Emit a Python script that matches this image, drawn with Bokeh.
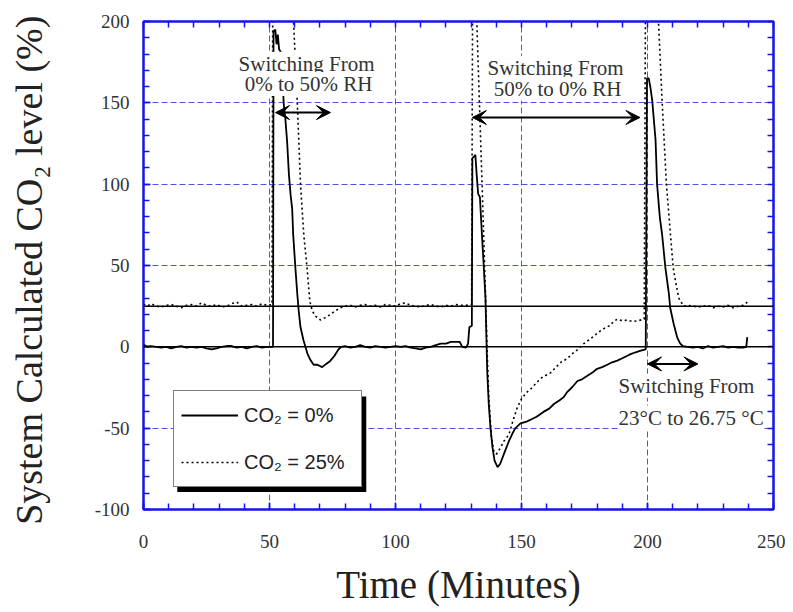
from bokeh.plotting import figure
from bokeh.models import (Range1d, LinearAxis, FixedTicker, Span, Label, Arrow,
                          VeeHead, Legend, LegendItem, BoxAnnotation)
from bokeh.embed import file_html
from bokeh.resources import INLINE

# ---------------- data ----------------
# Series 1: CO2 = 0 %  (solid)
solid_t = [0, 1.5, 3, 5, 7, 9, 11, 13, 15, 17, 19, 21, 23, 25, 27, 29, 31, 33, 35, 37, 39, 41, 43, 45, 47, 49, 51.4,
           51.6, 52.3, 52.8, 53.3, 53.8, 54.6, 55.2, 55.6, 56.3, 57.0, 57.7, 58.4, 59.0, 59.4, 60.3, 61.0, 61.6, 62.3,
           63.5, 65.0, 66.2, 67.5, 69.0, 70.9, 72.5, 74.2, 75.8, 77.4, 78.5,
           80, 82, 84, 86, 88, 90, 92, 94, 96, 98, 100, 102, 104, 106, 108, 110, 112, 114, 116, 118, 120, 122, 124,
           125.5, 126.5, 128, 128.8, 129.3, 130.3,
           130.5, 131.2, 131.7, 132.2, 132.8, 133.5, 134.3, 135.0, 135.7, 136.4, 137.0, 137.7, 138.5, 139.3, 140.5,
           141.5, 143, 145, 146.5, 147.6, 149.6, 152, 154, 156, 158.7, 161, 163, 165, 166.7, 168, 170, 172.2, 174,
           176, 178, 180, 182, 184, 186, 188, 190, 192, 193.3, 195, 197, 199.3,
           199.8, 200.5, 201.2, 201.9, 202.5, 203.2, 203.8, 204.9, 205.8, 206.5, 207.1, 208.5, 209.0, 210.4, 211.8,
           213.0, 214, 216, 218, 220, 222, 224, 226, 228, 230, 232, 234, 236, 238, 239.2, 239.6]
solid_v = [1.5, 0, 0.5, 0, -0.5, 0, -1, 0, 0.5, -0.5, 0, -0.5, 0, -1, -1.5, -1, 0, 0.5, 0.5, -0.5, 0, -1, 0, 0.5, -0.5, 0, 0,
           194, 195, 186, 192, 183, 181, 168, 150, 140, 126, 106, 93, 85, 69, 48, 33, 22, 12,
           4, -4, -8, -11, -11, -12.5, -10.5, -8.5, -5.5, -1.5, 0,
           0.5, -0.5, 0, 1, 0, -0.5, 0.5, 0, -0.5, 0, 0.5, 0, 0.5, -0.5, -1, -1.5, -0.5, 0, 1, 2, 2, 3, 3,
           3, 0, -0.5, 2, 12, 13,
           116, 117, 118, 106, 94, 92, 69, 50, 30, -15, -35, -50, -62, -70, -74,
           -72, -66, -58, -53, -50, -47, -46, -44.5, -43, -40, -38, -35, -33, -31, -28, -25, -21, -20,
           -18, -16, -13.5, -12.5, -11, -9.5, -8.5, -7, -5.5, -4.5, -3.5, -2.5, -1.5,
           165, 165, 159, 151, 140, 127, 100, 79.5, 69, 58, 48.5, 32.5, 24, 14, 5.7,
           2, 0.5, 0, -0.5, 0, -1, 0.5, -0.5, 0, 0.5, -0.5, 0, -0.5, -0.5, 0, 6]

# Series 2: CO2 = 25 %  (dotted)
dotted_t = [0, 1.5, 3, 5, 7, 9, 11, 13, 15, 17, 19, 21, 23, 25, 27, 29, 31, 33, 35, 37, 39, 41, 43, 45, 47, 49, 51.0,
            51.3, 58.8, 59.6, 61.0, 62.3, 63.6, 64.9, 66.0, 67.0, 68.2, 70.2, 72.2, 74.2, 76.0, 78.0,
            80, 82, 84, 86, 88, 90, 92, 94, 96, 98, 100, 102, 104, 106, 108, 110, 112, 114, 116, 118, 120, 122, 124,
            126, 128, 130.2,
            130.6, 132.0, 132.5, 133.7, 134.4, 135.7, 136.3, 137.0, 138.0, 139.0, 140.0, 141.7, 143.0, 145.0, 146.5,
            148.4, 150.0, 152.0, 153.6, 156.0, 158.0, 161.5, 164.0, 166.0, 168.0, 170.0, 172.0, 174.6, 177.0, 179.0,
            181.3, 183.0, 185.0, 186.5, 188.0, 190.0, 192.0, 194.0, 196.0, 198.7,
            199.2, 203.6, 204.4, 205.8, 207.5, 210.2, 211.1, 212.4, 214.3,
            216, 218, 220, 222, 224, 226, 228, 230, 232, 234, 236, 238, 239.6]
dotted_v = [26, 25, 26.5, 25, 24.5, 25.5, 26, 25, 24, 25.5, 26, 25, 27, 25.5, 25, 26, 24.5, 25, 26.5, 27.5, 25, 25.5, 26,
            25, 26.5, 25.5, 26,
            215, 215, 198, 151, 100, 69, 48.5, 28, 22, 19, 16.5, 18, 20, 22, 24,
            25, 25.5, 24.5, 25.5, 26, 25, 25.5, 24.5, 26, 25.5, 25, 26.5, 27, 25.5, 25, 24.5, 25.5, 26, 25, 24.5, 25.5,
            25, 26, 25.5, 25.5, 26,
            215, 215, 188, 131, 98, 32.5, 0, -30, -55, -64, -66, -62, -58, -54, -46,
            -37, -32, -28, -26, -22, -19, -16, -12, -9, -7.5, -4.5, -2, 1.8, 4.5, 7,
            9.8, 11.5, 13, 15.5, 17, 16, 16.5, 15.5, 16, 17,
            215, 215, 198.5, 151, 100, 48.5, 40.5, 30, 25,
            25.5, 25, 24.5, 25, 25.5, 24, 25, 24.5, 25.5, 24, 25, 25.5, 27.5]

series_labels = ["CO\u2082 = 0%", "CO\u2082 = 25%"]
reference_levels = [0, 25]

x_ticks = [0, 50, 100, 150, 200, 250]
x_tick_labels = ["0", "50", "100", "150", "200", "250"]
y_ticks = [-100, -50, 0, 50, 100, 150, 200]
y_tick_labels = ["-100", "-50", "0", "50", "100", "150", "200"]
x_minor = list(range(0, 251, 10))
y_minor = list(range(-100, 201, 10))

# ---------------- styling ----------------
BLUE = "#1414e6"
GRID = "#5050ee"
SERIF = "Liberation Serif"
SANS = "Liberation Sans"

p = figure(width=785, height=612, output_backend="svg", toolbar_location=None,
           x_range=Range1d(0, 250), y_range=Range1d(-100, 200),
           min_border_left=143, min_border_right=12, min_border_top=21, min_border_bottom=103,
           background_fill_color="white", border_fill_color="white")
p.outline_line_color = BLUE
p.outline_line_width = 2

xt = FixedTicker(ticks=x_ticks, minor_ticks=x_minor)
yt = FixedTicker(ticks=y_ticks, minor_ticks=y_minor)


def style_axis(ax):
    ax.axis_line_color = BLUE
    ax.axis_line_width = 2
    ax.major_tick_line_color = BLUE
    ax.minor_tick_line_color = BLUE
    ax.major_tick_line_width = 1.5
    ax.minor_tick_line_width = 1.5
    ax.major_tick_in = 7
    ax.major_tick_out = 0
    ax.minor_tick_in = 6
    ax.minor_tick_out = 0


xa = p.xaxis[0]
xa.ticker = xt
style_axis(xa)
xa.major_label_overrides = {t: s for t, s in zip(x_ticks, x_tick_labels)}
xa.major_label_text_font = SERIF
xa.major_label_text_font_size = "19px"
xa.major_label_text_color = "#333333"
xa.major_label_standoff = 25
xa.axis_label = "Time (Minutes)"
xa.axis_label_text_font = SERIF
xa.axis_label_text_font_size = "39px"
xa.axis_label_text_font_style = "normal"
xa.axis_label_text_color = "#222222"
xa.axis_label_standoff = 12

ya = p.yaxis[0]
ya.ticker = yt
style_axis(ya)
ya.major_label_overrides = {t: s for t, s in zip(y_ticks, y_tick_labels)}
ya.major_label_text_font = SERIF
ya.major_label_text_font_size = "19px"
ya.major_label_text_color = "#333333"
ya.major_label_standoff = 14
ya.axis_label = "System Calculated CO\u2082 level (%)" + "\u00a0"
ya.axis_label_text_font = SERIF
ya.axis_label_text_font_size = "38px"
ya.axis_label_text_font_style = "normal"
ya.axis_label_text_color = "#222222"
ya.axis_label_standoff = 42

# top / right frame axes: tick marks only (every 10 units), no labels
for loc, minor in (("above", x_minor), ("right", y_minor)):
    ax = LinearAxis(ticker=FixedTicker(ticks=[], minor_ticks=minor))
    style_axis(ax)
    ax.major_label_standoff = 0
    p.add_layout(ax, loc)

for g, tk in ((p.xgrid[0], xt), (p.ygrid[0], yt)):
    g.ticker = tk
    g.grid_line_color = GRID
    g.grid_line_width = 1
    g.grid_line_dash = "6 3"

for lvl in reference_levels:
    p.add_layout(Span(location=lvl, dimension="width", line_color="black", line_width=1.5))

r0 = p.line(solid_t, solid_v, line_color="black", line_width=1.8)
r1 = p.line(dotted_t, dotted_v, line_color="black", line_width=1.6, line_dash="2 3")

# legend with drop shadow
p.add_layout(BoxAnnotation(left=13.4, right=88.4, top=-30.5, bottom=-89.3,
                           fill_color="black", fill_alpha=1, line_alpha=0))
legend = Legend(items=[LegendItem(label=series_labels[0], renderers=[r0]),
                       LegendItem(label=series_labels[1], renderers=[r1])],
                location=(30, 22), margin=0, padding=7, spacing=13,
                glyph_width=57, glyph_height=34, label_height=34, label_width=110,
                label_standoff=6, border_line_color="black", border_line_width=1.5,
                background_fill_color="white", background_fill_alpha=1,
                label_text_font=SANS, label_text_font_size="20px", label_text_color="#222222")
p.add_layout(legend)

# annotations
notes = [
    (64.7, 174, "Switching From", "center"),
    (65.5, 161.6, "0% to 50% RH", "center"),
    (163.5, 171.5, "Switching From", "center"),
    (164.3, 158.6, "50% to 0% RH", "center"),
    (188.5, -24, "Switching From", "left"),
    (188.5, -43.5, "23\u00b0C to 26.75 \u00b0C", "left"),
]
for x, y, txt, al in notes:
    p.add_layout(Label(x=x, y=y, text=txt, text_align=al, text_baseline="middle",
                       text_font=SERIF, text_font_size="21px", text_color="#333333",
                       background_fill_color="white", background_fill_alpha=1))

arrows = [(52.4, 74.2, 144), (130.5, 197, 141), (200, 220, -10.5)]
for xs, xe, yy in arrows:
    p.add_layout(Arrow(x_start=xs, y_start=yy, x_end=xe, y_end=yy, line_width=2, line_color="black",
                       start=VeeHead(size=14, fill_color="black", line_color="black"),
                       end=VeeHead(size=14, fill_color="black", line_color="black")))

open("out.html", "w").write(file_html(p, INLINE))
